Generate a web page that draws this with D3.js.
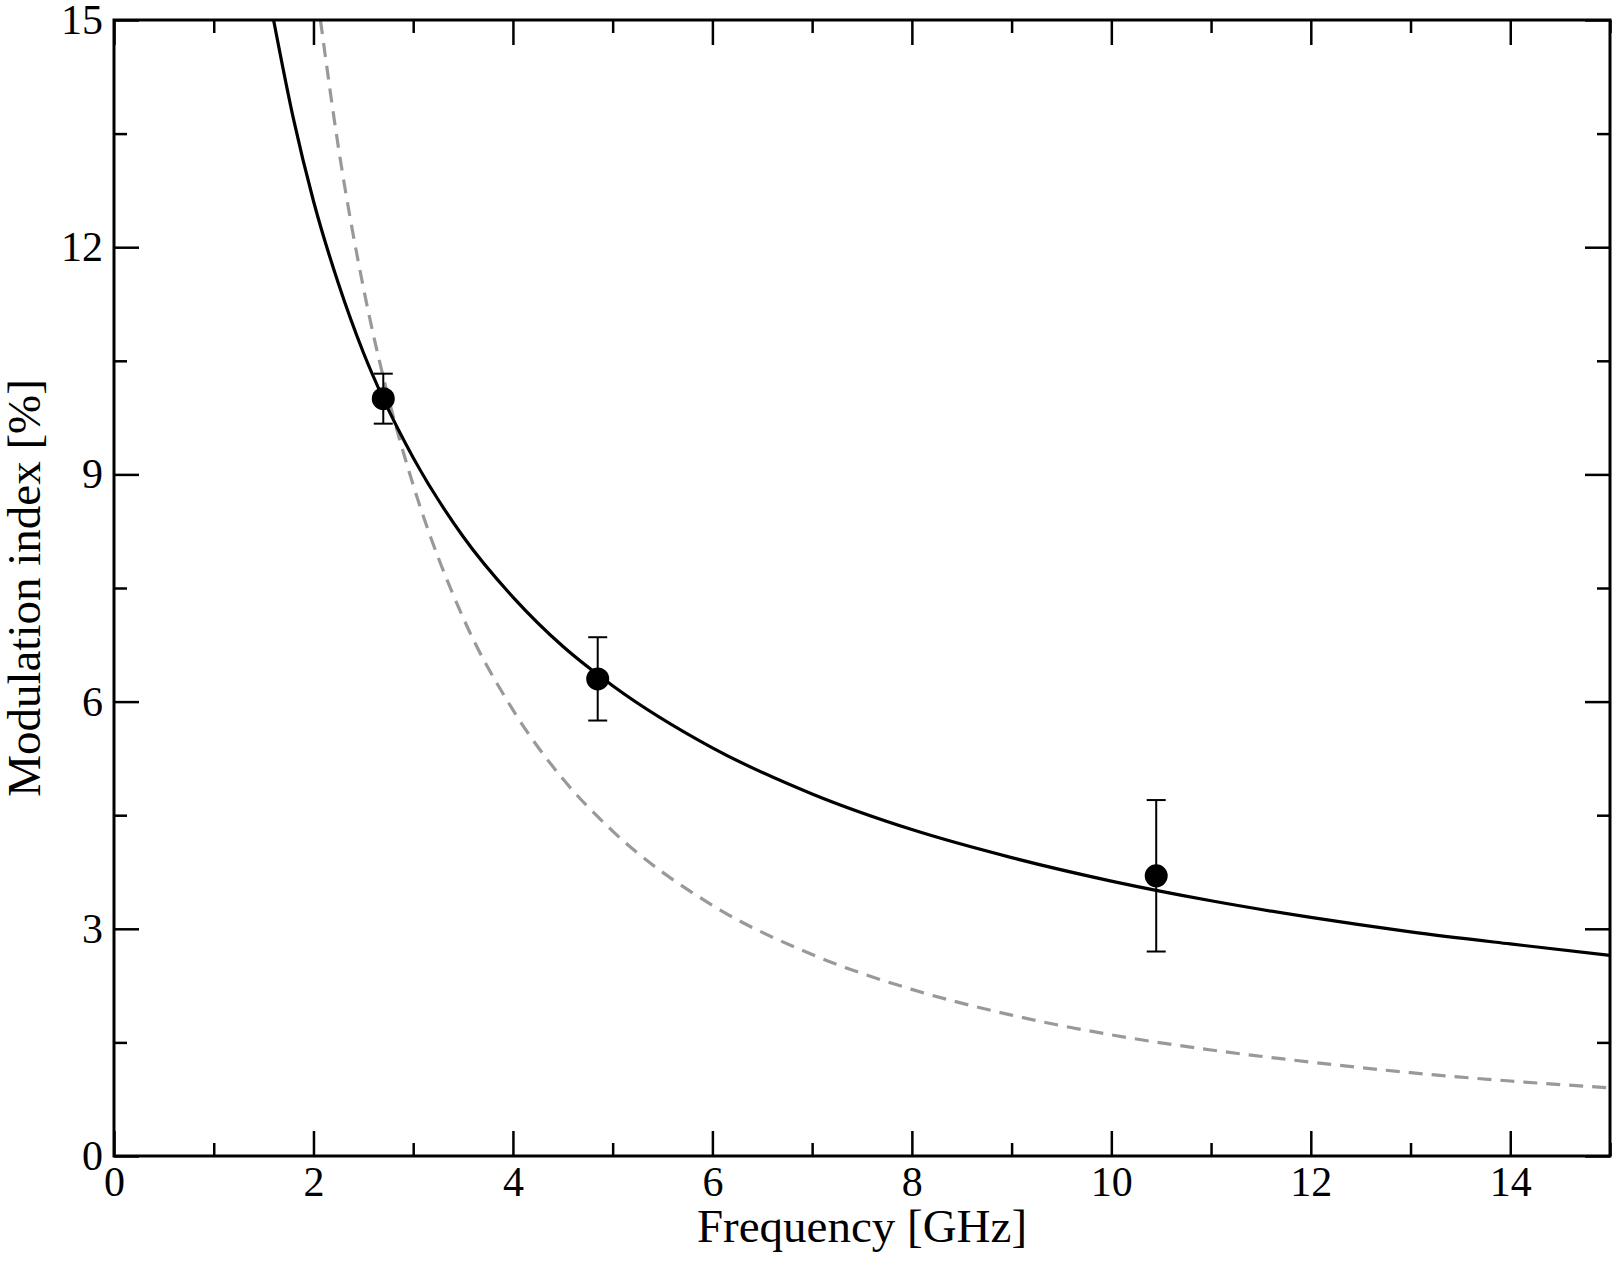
<!DOCTYPE html>
<html>
<head>
<meta charset="utf-8">
<script src="https://cdn.jsdelivr.net/npm/d3@7"></script>
<style>
  body { margin: 0; background: #fff; }
  text { font-family: "Liberation Serif", "DejaVu Serif", serif; fill: #000; }
</style>
</head>
<body>
<div id="chart"></div>
<script>
// measured points (GHz, %), with symmetric errors
var freqs = [2.7, 4.85, 10.45];
var modIndex = [10.0, 6.3, 3.7];
var modErr = [0.33, 0.55, 1.0];

// solid fit curve
var fitX = [1.6, 1.8, 2.0, 2.25, 2.5, 2.7, 3.0, 3.5, 4.0, 4.5, 5, 6, 7, 8, 9, 10, 11, 12, 13, 14, 15];
var fitY = [15.0, 13.69, 12.61, 11.52, 10.61, 10.0, 9.22, 8.18, 7.38, 6.73, 6.21, 5.39, 4.78, 4.31, 3.94, 3.63, 3.37, 3.15, 2.96, 2.80, 2.65];

// dashed grey curve
var dashX = [2.07, 2.25, 2.5, 2.75, 3.0, 3.5, 4, 4.5, 5, 6, 7, 8, 9, 10, 11, 12, 13, 14, 15];
var dashY = [15.0, 13.32, 11.47, 10.02, 8.86, 7.11, 5.89, 4.98, 4.29, 3.31, 2.66, 2.20, 1.86, 1.60, 1.40, 1.24, 1.10, 0.99, 0.90];

var xMajor = [0, 2, 4, 6, 8, 10, 12, 14];
var xMinor = [1, 3, 5, 7, 9, 11, 13, 15];
var yMajor = [0, 3, 6, 9, 12, 15];
var yMinor = [1.5, 4.5, 7.5, 10.5, 13.5];

var W = 1615, H = 1262;
var margin = {left: 114, right: 5, top: 20, bottom: 106};
var w = W - margin.left - margin.right;
var h = H - margin.top - margin.bottom;

var svg = d3.select("#chart").append("svg")
    .attr("width", W)
    .attr("height", H);
var g = svg.append("g")
    .attr("transform", "translate(" + margin.left + "," + margin.top + ")");

var x = d3.scaleLinear().domain([0, 15]).range([0, w]);
var y = d3.scaleLinear().domain([0, 15]).range([h, 0]);

g.append("clipPath").attr("id", "clip")
  .append("rect").attr("width", w).attr("height", h);

//curves
var line = d3.line()
    .x(function(d){ return x(d[0]); })
    .y(function(d){ return y(d[1]); })
    .curve(d3.curveMonotoneX);

g.append("path")
    .datum(d3.zip(dashX, dashY))
    .attr("clip-path", "url(#clip)")
    .attr("d", line)
    .attr("fill", "none")
    .attr("stroke", "#999")
    .attr("stroke-width", 3.2)
    .attr("stroke-dasharray", "14,9");

g.append("path")
    .datum(d3.zip(fitX, fitY))
    .attr("clip-path", "url(#clip)")
    .attr("d", line)
    .attr("fill", "none")
    .attr("stroke", "#000")
    .attr("stroke-width", 3.2);

//error bars + markers
var pts = freqs.map(function(f, i){ return {x: f, y: modIndex[i], e: modErr[i]}; });
var eb = g.selectAll(".err").data(pts).enter().append("g").attr("class", "err")
    .attr("stroke", "#000").attr("stroke-width", 2);
eb.append("line")
    .attr("x1", function(d){ return x(d.x); }).attr("x2", function(d){ return x(d.x); })
    .attr("y1", function(d){ return y(d.y - d.e); }).attr("y2", function(d){ return y(d.y + d.e); });
[-1, 1].forEach(function(s){
  eb.append("line")
    .attr("x1", function(d){ return x(d.x) - 9.5; }).attr("x2", function(d){ return x(d.x) + 9.5; })
    .attr("y1", function(d){ return y(d.y + s*d.e); }).attr("y2", function(d){ return y(d.y + s*d.e); });
});
g.selectAll(".pt").data(pts).enter().append("circle")
    .attr("class", "pt")
    .attr("cx", function(d){ return x(d.x); })
    .attr("cy", function(d){ return y(d.y); })
    .attr("r", 11.5)
    .attr("fill", "#000");

//axes, ticks pointing inward on all four sides
function styleAxis(sel){
  sel.select(".domain").remove();
  sel.selectAll(".tick line").attr("stroke", "#000").attr("stroke-width", 2.5);
  sel.selectAll("text").attr("font-size", 42).attr("fill", "#000");
}
g.append("g").attr("transform", "translate(0," + h + ")")
  .call(d3.axisBottom(x).tickValues(xMajor).tickSize(-25).tickPadding(10).tickFormat(d3.format("d")))
  .call(styleAxis);
g.append("g").attr("transform", "translate(0," + h + ")")
  .call(d3.axisBottom(x).tickValues(xMinor).tickSize(-13).tickFormat(""))
  .call(styleAxis);
g.append("g")
  .call(d3.axisTop(x).tickValues(xMajor).tickSize(-25).tickFormat(""))
  .call(styleAxis);
g.append("g")
  .call(d3.axisTop(x).tickValues(xMinor).tickSize(-13).tickFormat(""))
  .call(styleAxis);
g.append("g")
  .call(d3.axisLeft(y).tickValues(yMajor).tickSize(-25).tickPadding(11).tickFormat(d3.format("d")))
  .call(styleAxis);
g.append("g")
  .call(d3.axisLeft(y).tickValues(yMinor).tickSize(-13).tickFormat(""))
  .call(styleAxis);
g.append("g").attr("transform", "translate(" + w + ",0)")
  .call(d3.axisRight(y).tickValues(yMajor).tickSize(-25).tickFormat(""))
  .call(styleAxis);
g.append("g").attr("transform", "translate(" + w + ",0)")
  .call(d3.axisRight(y).tickValues(yMinor).tickSize(-13).tickFormat(""))
  .call(styleAxis);

//frame
g.append("rect")
    .attr("width", w).attr("height", h)
    .attr("fill", "none").attr("stroke", "#000").attr("stroke-width", 3);

//axis titles
g.append("text")
    .attr("x", w/2).attr("y", h + 86)
    .attr("text-anchor", "middle")
    .attr("font-size", 47)
    .text("Frequency [GHz]");
g.append("text")
    .attr("transform", "translate(" + (-74) + "," + (h/2) + ") rotate(-90)")
    .attr("text-anchor", "middle")
    .attr("font-size", 47)
    .text("Modulation index [%]");
</script>
</body>
</html>
